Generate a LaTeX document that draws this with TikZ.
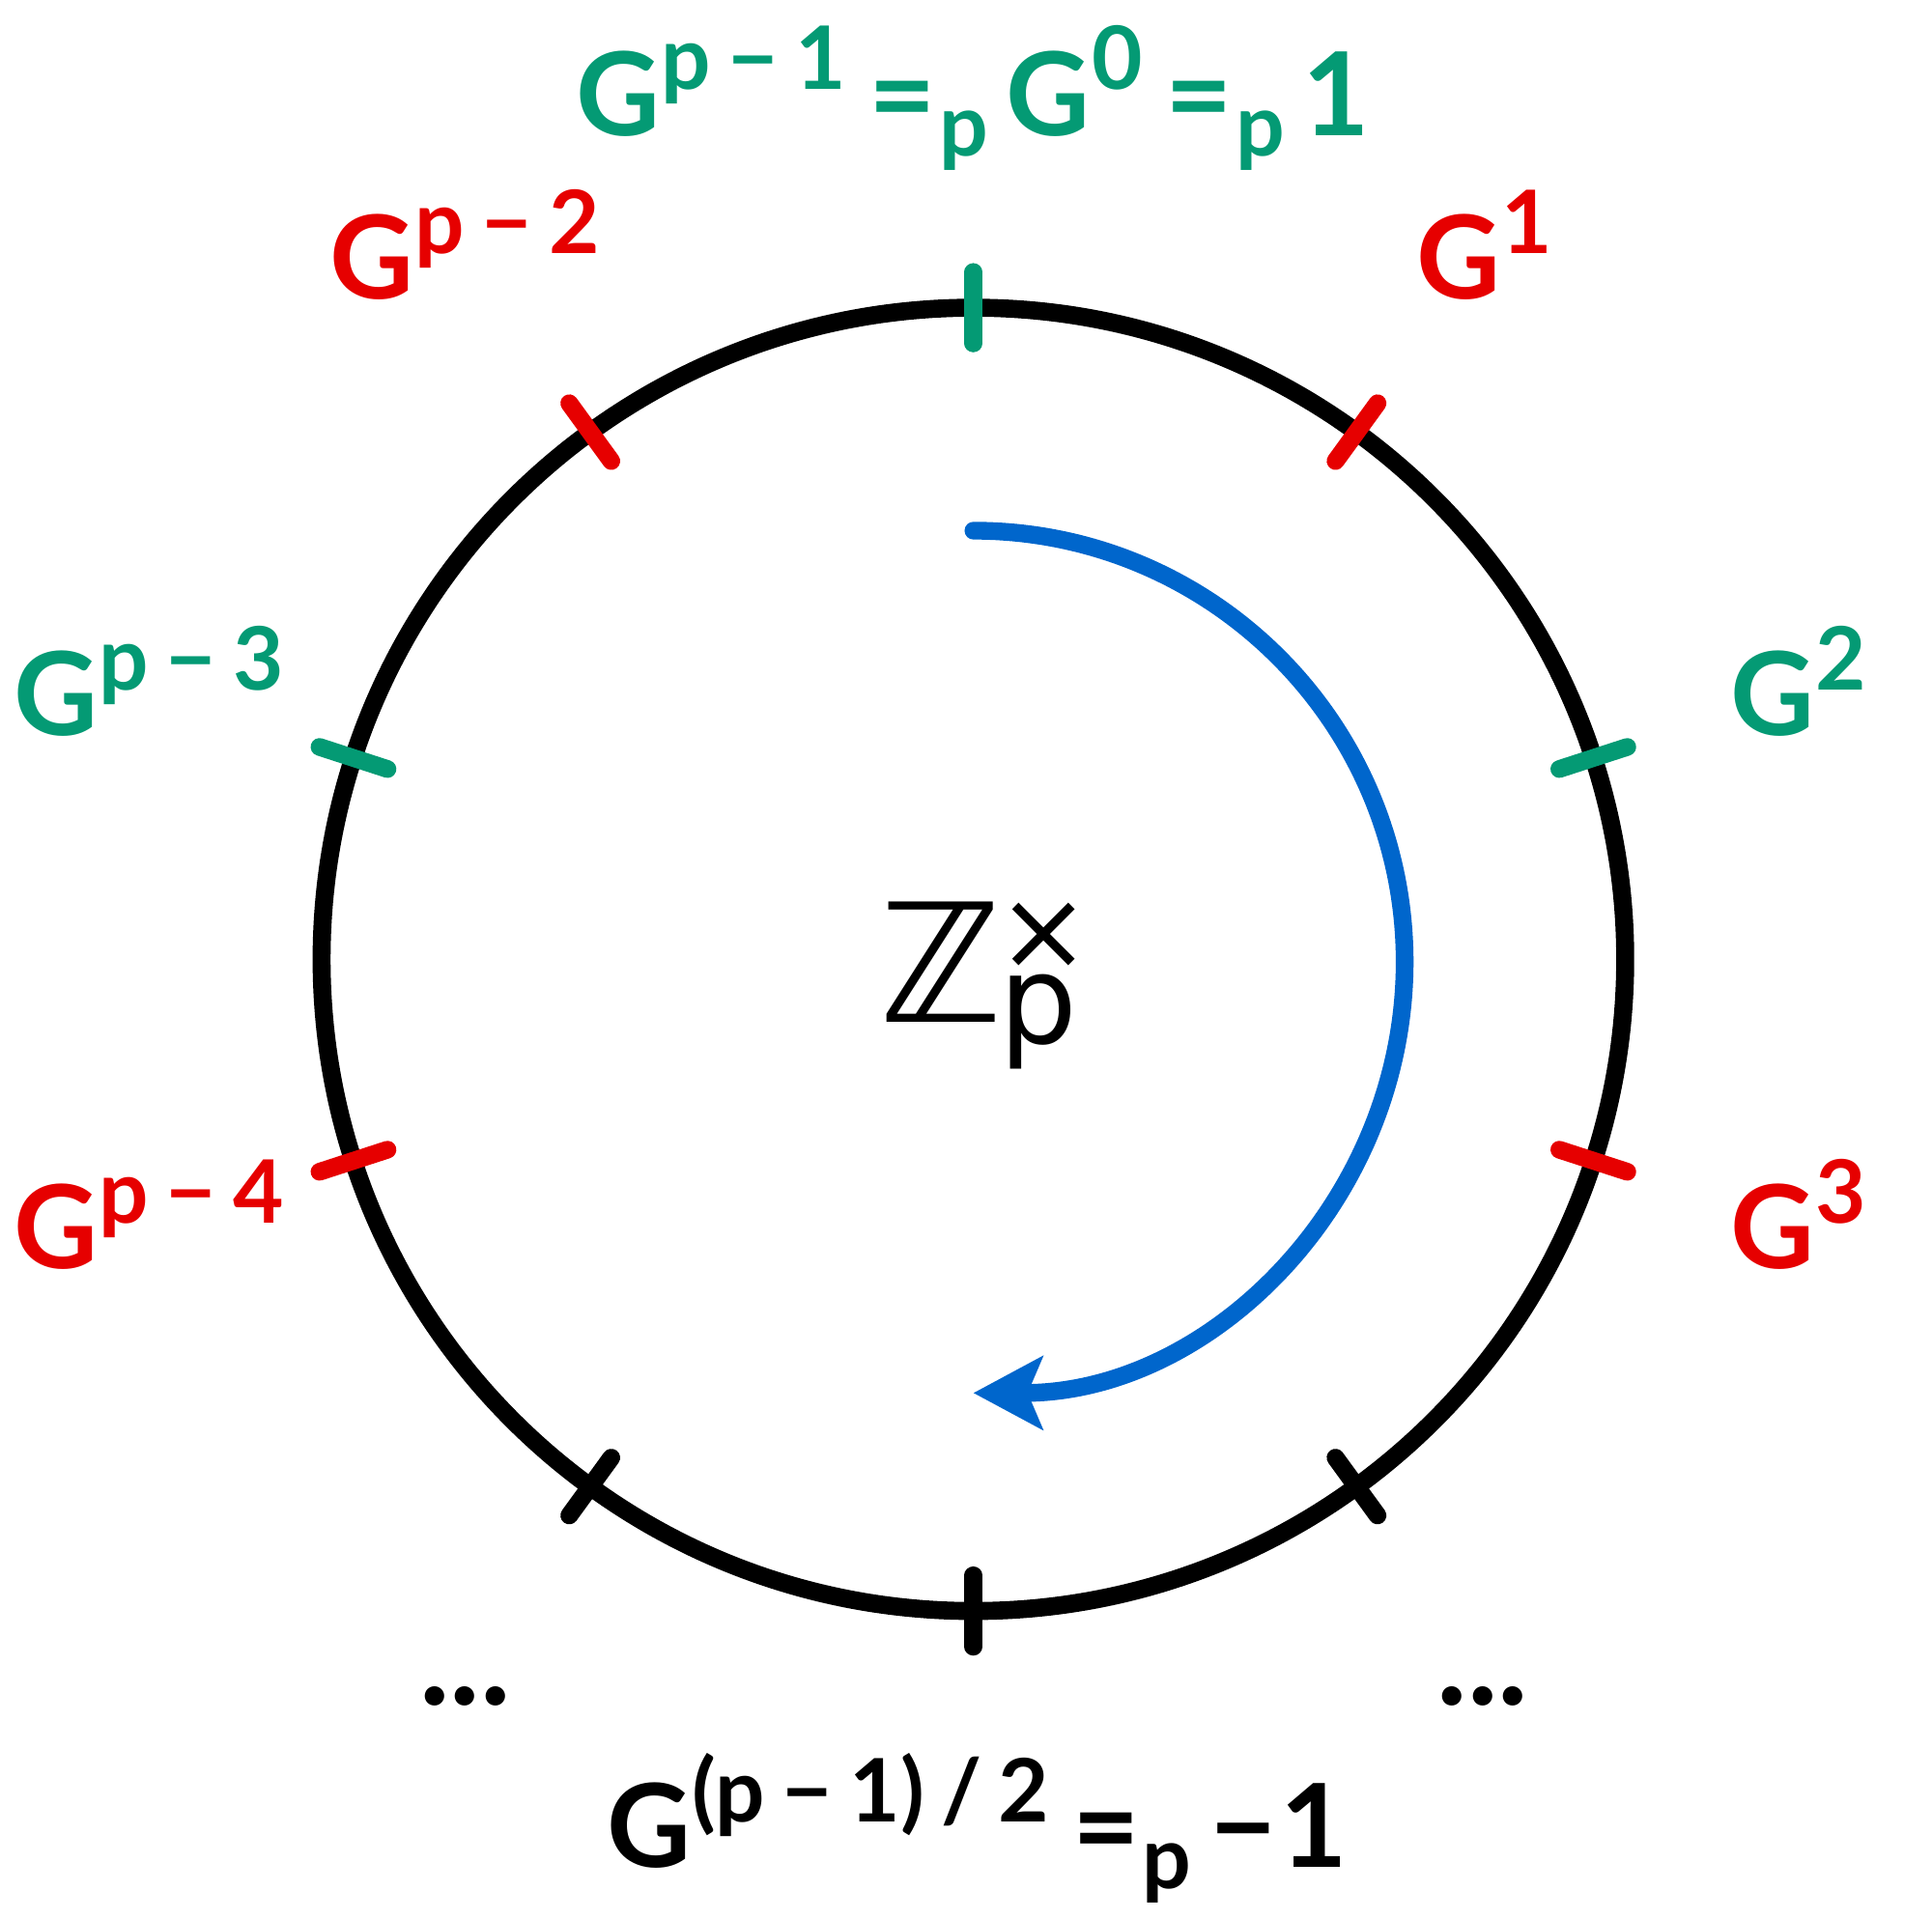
\documentclass[tikz,border=0pt]{standalone}
\usepackage{fontspec}
\setmainfont{Lato}
\newfontfamily\dvs{DejaVu Sans}
\usetikzlibrary{arrows.meta,calc}
\definecolor{ggreen}{RGB}{4,154,116}
\definecolor{rred}{RGB}{230,0,0}
\definecolor{bblue}{RGB}{0,102,204}
\newcommand\mainsz{\fontsize{47pt}{56pt}\selectfont\bfseries}
\newcommand\ssp{\hspace{6.8pt}}
\newcommand\msp{\hspace{7.5pt}}
\newcommand\eqsp{\hspace{9.5pt}}
\newcommand\Sup[1]{\kern0.5pt\raisebox{18.5pt}{\fontsize{35.5pt}{40pt}\selectfont\bfseries #1}}
\newcommand\Sub[1]{\kern1pt\raisebox{-8.5pt}{\fontsize{35pt}{40pt}\selectfont\bfseries #1}}
\begin{document}
\begin{tikzpicture}[x=0.5pt,y=0.5pt,
  lbl/.style={inner sep=0,anchor=base west,font=\mainsz},
  tickmark/.style={line width=7.2pt,line cap=round}]
\useasboundingbox (0,0) rectangle (1568,1557.8);
\coordinate (O) at (790,779);
\draw[line width=7.3pt] (O) circle[radius=529];
\foreach \a/\c in {90/ggreen,54/rred,18/ggreen,-18/rred,-54/black,-90/black,-126/black,198/rred,162/ggreen,126/rred}
  \draw[tickmark,draw=\c] ($(O)+(\a:500)$) -- ($(O)+(\a:558)$);
\coordinate (A0) at (790,1127);
\draw[bblue,line width=7.2pt,line cap=round,-{Stealth[length=28pt 0,width=29.5pt 0,inset=6pt 0]}]
  (A0) arc[start angle=90,end angle=-90,radius=350];
\node[lbl,ggreen] (top) at (467,1448) {G\Sup{p\ssp−\ssp1}\eqsp=\Sub{p}\msp G\Sup{0}\eqsp=\Sub{p}\msp 1};
\node[lbl,rred] (g1) at (1149,1315) {G\Sup{1}};
\node[lbl,ggreen] (g2) at (1404,961) {G\Sup{2}};
\node[lbl,rred] (g3) at (1404,528) {G\Sup{3}};
\node[lbl,rred] (gp2) at (267,1315) {G\Sup{p\ssp−\ssp2}};
\node[lbl,ggreen] (gp3) at (11,961) {G\Sup{p\ssp−\ssp3}};
\node[lbl,rred] (gp4) at (11,528) {G\Sup{p\ssp−\ssp4}};
\node[lbl] (bot) at (492,42) {G\Sup{(p\ssp−\ssp1)\ssp/\ssp2}\eqsp=\Sub{p}\msp−\kern1.5pt1};
\node[lbl,font=\fontsize{52pt}{56pt}\selectfont\bfseries] (dl) at (340,174) {...};
\node[lbl,font=\fontsize{52pt}{56pt}\selectfont\bfseries] (dr) at (1166,174) {...};
\node[inner sep=0,anchor=base,font=\dvs\fontsize{67pt}{70pt}\selectfont] (Z) at (763.5,728) {ℤ};
\node[inner sep=0,anchor=base,font=\dvs\fontsize{50pt}{55pt}\selectfont] (pp) at (843,711)
  {\ooalign{p\cr\hidewidth\kern4pt\raisebox{30pt}{\fontsize{45pt}{50pt}\selectfont ×}\hidewidth\cr}};
\end{tikzpicture}
\end{document}
